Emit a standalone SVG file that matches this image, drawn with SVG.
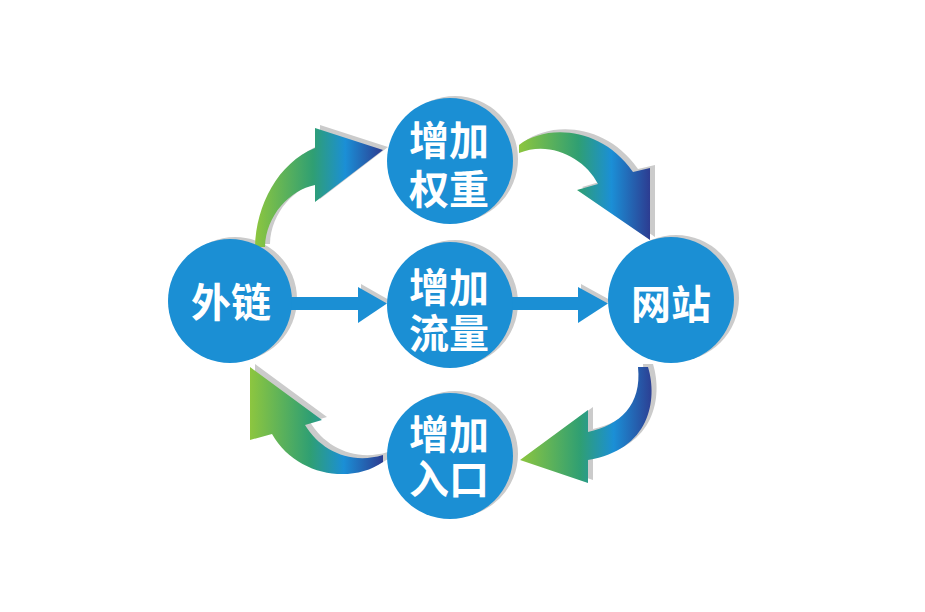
<svg xmlns="http://www.w3.org/2000/svg" width="925" height="612" viewBox="0 0 925 612">
<style>
.node{fill:#1b8fd4}
.nshadow{fill:#cbcbcb}
.ashadow{fill:#cbcbcb}
.label{fill:#ffffff;font-family:"Noto Sans CJK SC","Noto Sans",sans-serif;font-weight:bold;font-size:40px;text-anchor:middle}
.straight{fill:#1b8fd4}
</style>
<defs>
<linearGradient id="g1" gradientUnits="userSpaceOnUse" x1="255" y1="0" x2="384" y2="0">
<stop offset="0" stop-color="#8dc63f"/><stop offset="0.45" stop-color="#2f9f73"/><stop offset="0.7" stop-color="#1b8fd6"/><stop offset="1" stop-color="#2d3a8f"/>
</linearGradient>
<linearGradient id="g2" gradientUnits="userSpaceOnUse" x1="519" y1="0" x2="651" y2="0">
<stop offset="0" stop-color="#8dc63f"/><stop offset="0.45" stop-color="#2f9f73"/><stop offset="0.7" stop-color="#1b8fd6"/><stop offset="1" stop-color="#2d3a8f"/>
</linearGradient>
<linearGradient id="g3" gradientUnits="userSpaceOnUse" x1="520" y1="0" x2="654" y2="0">
<stop offset="0" stop-color="#8dc63f"/><stop offset="0.45" stop-color="#2f9f73"/><stop offset="0.7" stop-color="#1b8fd6"/><stop offset="1" stop-color="#2d3a8f"/>
</linearGradient>
<linearGradient id="g4" gradientUnits="userSpaceOnUse" x1="250" y1="0" x2="384" y2="0">
<stop offset="0" stop-color="#8dc63f"/><stop offset="0.45" stop-color="#2f9f73"/><stop offset="0.7" stop-color="#1b8fd6"/><stop offset="1" stop-color="#2d3a8f"/>
</linearGradient>
<path id="p1" d="M255,247 C256,205 278,163 315,148 L315,128 L383,150 L315,202 L315,185 C290,190 266,215 265,247 Z"/>
<path id="p2" d="M519,145 C545,125 600,125 633,172 L650,168 L650,240 L577,190 L598,184 C585,158 550,140 519,153 Z"/>
<path id="p3" d="M638,367 L648,367 C658,400 650,450 588,460 L588,483 L520,460 L588,410 L588,432 C620,425 642,405 638,367 Z"/>
<path id="p4" d="M250,367 L322,420 L305,425 C320,450 350,465 383,455 L383,462 C350,485 295,475 272,434 L250,440 Z"/>
</defs>

<g id="shadows">
<circle class="nshadow" cx="235" cy="299" r="62"/>
<circle class="nshadow" cx="455" cy="159" r="63"/>
<circle class="nshadow" cx="455" cy="303" r="63"/>
<circle class="nshadow" cx="676" cy="298" r="63"/>
<circle class="nshadow" cx="455" cy="454" r="63"/>
</g>

<g id="connectors">
<g transform="translate(5,-3)" class="ashadow">
<use href="#p1"/><use href="#p2"/><use href="#p3"/><use href="#p4"/>
</g>
<g class="ashadow" transform="translate(3,-3)">
<polygon points="358,287 387,303.5 358,323"/>
<polygon points="578,287 608,303.5 578,323"/>
</g>
<use href="#p1" fill="url(#g1)"/>
<use href="#p2" fill="url(#g2)"/>
<use href="#p3" fill="url(#g3)"/>
<use href="#p4" fill="url(#g4)"/>
<g class="straight">
<rect x="285" y="297" width="76" height="13"/>
<polygon points="358,287 387,303.5 358,323"/>
<rect x="505" y="297" width="76" height="13"/>
<polygon points="578,287 608,303.5 578,323"/>
</g>
</g>

<g id="node-waillian">
<circle class="node" cx="230" cy="301" r="62"/>
<text class="label" x="231" y="317">外链</text>
</g>
<g id="node-quanzhong">
<circle class="node" cx="450" cy="161" r="63"/>
<text class="label" x="449" y="155">增加<tspan x="449" dy="49">权重</tspan></text>
</g>
<g id="node-liuliang">
<circle class="node" cx="450" cy="305" r="63"/>
<text class="label" x="449" y="302">增加<tspan x="449" dy="46">流量</tspan></text>
</g>
<g id="node-wangzhan">
<circle class="node" cx="671" cy="300" r="63"/>
<text class="label" x="671" y="319">网站</text>
</g>
<g id="node-rukou">
<circle class="node" cx="450" cy="456" r="63"/>
<text class="label" x="449" y="449">增加<tspan x="449" dy="45">入口</tspan></text>
</g>
</svg>
